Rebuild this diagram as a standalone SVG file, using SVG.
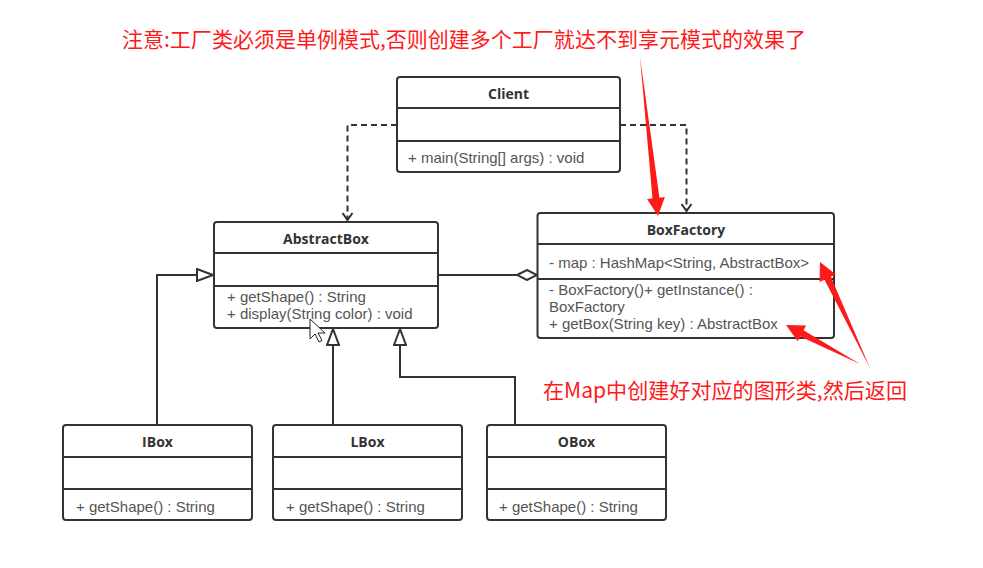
<svg xmlns="http://www.w3.org/2000/svg" width="983" height="568" viewBox="0 0 983 568">
<style>
.box{fill:#fff;stroke:#333;stroke-width:2}
.div{stroke:#333;stroke-width:2}
.title{font-family:"Open Sans","Noto Sans",sans-serif;font-size:14px;font-weight:bold;fill:#333;text-anchor:middle}
.mem{font-family:"Liberation Sans",Arial,sans-serif;font-size:15px;fill:#555}
.line{fill:none;stroke:#333;stroke-width:2}
.dash{stroke-dasharray:6 4}
.note{font-family:"Noto Sans CJK SC","Noto Sans",sans-serif;font-size:21px;fill:#ff1a1a}
.red{fill:#ff1a1a}
</style>
<defs>
<marker id="gen" markerUnits="userSpaceOnUse" viewBox="-1 -1 18 14" markerWidth="18" markerHeight="14" refX="16" refY="6" orient="auto">
<path d="M0,0 L16,6 L0,12 Z" fill="#fff" stroke="#333" stroke-width="2"/>
</marker>
<marker id="agg" markerUnits="userSpaceOnUse" viewBox="-1 -1 22 12" markerWidth="22" markerHeight="12" refX="20" refY="5" orient="auto">
<path d="M0,5 L10,0 L20,5 L10,10 Z" fill="#fff" stroke="#333" stroke-width="2"/>
</marker>
<marker id="dep" markerUnits="userSpaceOnUse" viewBox="-1 -1 10 12" markerWidth="10" markerHeight="12" refX="7" refY="5" orient="auto">
<path d="M0,0 L7,5 L0,10" fill="none" stroke="#333" stroke-width="2"/>
</marker>
</defs>
<rect width="983" height="568" fill="#fff"/>

<g id="connectors">
<path class="line dash" d="M397,125 H347.5 V220" marker-end="url(#dep)"/>
<path class="line dash" d="M620,125 H686.5 V211" marker-end="url(#dep)"/>
<path class="line" d="M438,275 H537" marker-end="url(#agg)"/>
<path class="line" d="M157,425 V275 H213" marker-end="url(#gen)"/>
<path class="line" d="M333,425 V329" marker-end="url(#gen)"/>
<path class="line" d="M515,425 V377 H400 V329" marker-end="url(#gen)"/>
</g>

<g id="Client">
<rect class="box" x="397" y="77" width="223" height="95" rx="3"/>
<line class="div" x1="397" y1="108" x2="620" y2="108"/>
<line class="div" x1="397" y1="141" x2="620" y2="141"/>
<text class="title" x="508.5" y="99">Client</text>
<text class="mem" x="408" y="163">+ main(String[] args) : void</text>
</g>

<g id="AbstractBox">
<rect class="box" x="214" y="222" width="224" height="106" rx="3"/>
<line class="div" x1="214" y1="253" x2="438" y2="253"/>
<line class="div" x1="214" y1="286" x2="438" y2="286"/>
<text class="title" x="326" y="244">AbstractBox</text>
<text class="mem" x="227" y="302">+ getShape() : String</text>
<text class="mem" x="227" y="319">+ display(String color) : void</text>
</g>

<g id="BoxFactory">
<rect class="box" x="537.5" y="213" width="296.5" height="125" rx="3"/>
<line class="div" x1="537.5" y1="244" x2="834" y2="244"/>
<line class="div" x1="537.5" y1="279" x2="834" y2="279"/>
<text class="title" x="686" y="235">BoxFactory</text>
<text class="mem" x="549" y="268">- map : HashMap&lt;String, AbstractBox&gt;</text>
<text class="mem" x="549" y="295">- BoxFactory()+ getInstance() :</text>
<text class="mem" x="549" y="312">BoxFactory</text>
<text class="mem" x="549" y="329">+ getBox(String key) : AbstractBox</text>
</g>

<g id="IBox">
<rect class="box" x="63" y="425" width="189" height="95" rx="3"/>
<line class="div" x1="63" y1="457" x2="252" y2="457"/>
<line class="div" x1="63" y1="489" x2="252" y2="489"/>
<text class="title" x="157.5" y="447">IBox</text>
<text class="mem" x="76" y="512">+ getShape() : String</text>
</g>

<g id="LBox">
<rect class="box" x="273" y="425" width="189" height="95" rx="3"/>
<line class="div" x1="273" y1="457" x2="462" y2="457"/>
<line class="div" x1="273" y1="489" x2="462" y2="489"/>
<text class="title" x="367.5" y="447">LBox</text>
<text class="mem" x="286" y="512">+ getShape() : String</text>
</g>

<g id="OBox">
<rect class="box" x="487" y="425" width="179" height="95" rx="3"/>
<line class="div" x1="487" y1="457" x2="666" y2="457"/>
<line class="div" x1="487" y1="489" x2="666" y2="489"/>
<text class="title" x="576.5" y="447">OBox</text>
<text class="mem" x="499" y="512">+ getShape() : String</text>
</g>

<g id="annotations">
<text class="note" x="122" y="47" textLength="684" lengthAdjust="spacingAndGlyphs">注意:工厂类必须是单例模式,否则创建多个工厂就达不到享元模式的效果了</text>
<text class="note" x="543" y="398" textLength="364" lengthAdjust="spacingAndGlyphs">在Map中创建好对应的图形类,然后返回</text>
<polygon class="red" points="640,57 659.45,197.72 664.91,197.1 658,216 647.03,199.12 652.49,198.5"/>
<polygon class="red" points="870,368 830.85,276.79 835.82,274.44 820,262 819.54,282.12 824.51,279.77"/>
<polygon class="red" points="860,364 803.55,330.29 806.12,325.43 786,325 797.72,341.35 800.29,336.49"/>
</g>

<path d="M310,319 L310,339 L315,334 L319,342 L322,340.5 L318,333 L325,333 Z" fill="#fff" stroke="#222" stroke-width="1"/>
</svg>
